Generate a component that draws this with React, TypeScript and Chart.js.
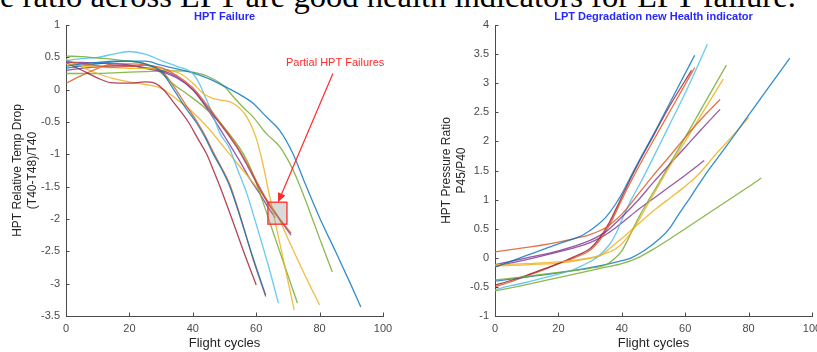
import React, { useEffect, useRef } from 'react';
import { Chart, registerables } from 'chart.js';

Chart.register(...registerables);
Chart.defaults.font.family = '"Liberation Sans", Arial, Helvetica, sans-serif';

type Pt = [number, number];

// ---------- shared axis data ----------
const cycleMin = 0;
const cycleMax = 100;
const cycleStep = 20;

// ---------- HPT Failure (left) ----------
const hptYMin = -3.5;
const hptYMax = 1;
const hptBlueA: Pt[] = [[0,0.36],[5,0.40],[10,0.42],[15,0.44],[20,0.44],[25,0.40],[30,0.28],[34,0.0],[38,-0.3],[41,-0.5],[44,-0.75],[46.5,-1.0],[49,-1.22],[51.7,-1.5],[55,-1.98],[59,-2.6],[63,-3.18]];
const hptOrangeA: Pt[] = [[0,0.44],[5,0.40],[10,0.37],[15,0.35],[20,0.36],[25,0.38],[30,0.34],[35,0.22],[40,0.03],[45,-0.27],[50,-0.6],[55,-0.96],[58,-1.22],[61,-1.5],[64,-1.76],[67,-1.97],[71,-2.22]];
const hptYellowA: Pt[] = [[0,0.40],[5,0.37],[10,0.35],[15,0.34],[20,0.33],[25,0.33],[30,0.32],[36,0.25],[40,0.10],[43.3,-0.06],[46,-0.13],[48.6,-0.16],[52.7,-0.21],[57,-0.42],[60.2,-0.78],[62.3,-1.19],[63.8,-1.55],[68,-2.5],[72,-3.41]];
const hptPurpleA: Pt[] = [[0,0.42],[5,0.42],[10,0.41],[15,0.40],[20,0.38],[25,0.33],[30,0.28],[35,0.18],[40,0.0],[45,-0.3],[50,-0.62],[55,-0.98],[58,-1.25],[61,-1.52],[64,-1.78],[67,-1.98],[71,-2.25]];
const hptGreenA: Pt[] = [[0,0.52],[5,0.51],[10,0.49],[15,0.47],[20,0.44],[25,0.40],[28,0.33],[31,0.22],[34,0.08],[38,-0.06],[43.3,-0.26],[49.6,-0.57],[55.9,-0.99],[58.5,-1.245],[62,-1.72],[66,-2.3],[70,-2.87],[73,-3.3]];
const hptLightBlue: Pt[] = [[0,0.45],[5,0.48],[10,0.50],[15,0.55],[20,0.59],[25,0.55],[30,0.45],[35,0.36],[40,0.25],[42,0.1],[44,-0.12],[46,-0.35],[48.6,-0.68],[51.5,-0.9],[54,-1.22],[57,-1.6],[60,-2.08],[64,-2.75],[67,-3.3]];
const hptDarkRed: Pt[] = [[0,0.42],[5,0.3],[10,0.18],[14,0.11],[20,0.10],[25,0.12],[28,0.10],[30.8,0],[34,-0.2],[38.6,-0.5],[41.5,-0.75],[44.4,-1.0],[46.5,-1.245],[48.6,-1.5],[52,-1.95],[56,-2.5],[60,-3.02]];
const hptBlueB: Pt[] = [[0,0.33],[5,0.37],[10,0.40],[15,0.43],[20,0.44],[25,0.44],[30,0.38],[35,0.32],[40,0.26],[45,0.17],[50,0.05],[55,-0.08],[59,-0.21],[63.2,-0.42],[67.4,-0.63],[71.6,-0.99],[75,-1.4],[80,-1.98],[85,-2.5],[90,-3.03],[93,-3.36]];
const hptOrangeB: Pt[] = [[0,0.10],[5,0.22],[10,0.33],[15,0.40],[20,0.40],[25,0.38],[30,0.30],[34,0.05],[38,-0.25],[41,-0.47],[44,-0.72],[46.5,-0.97],[49,-1.2],[51.7,-1.47],[55,-1.96],[59,-2.62],[63,-3.2]];
const hptYellowB: Pt[] = [[0,0.47],[5,0.35],[10,0.25],[15,0.17],[20,0.12],[25,0.08],[30,0.02],[35,-0.15],[40,-0.35],[45,-0.6],[50,-0.9],[55,-1.2],[60,-1.5],[66.4,-1.92],[70,-2.3],[75,-2.83],[80,-3.33]];
const hptPurpleB: Pt[] = [[0,0.30],[5,0.33],[10,0.35],[15,0.37],[20,0.37],[25,0.34],[30,0.30],[35,0.2],[40,0.0],[45,-0.33],[50,-0.72],[55,-1.12],[58,-1.38],[61,-1.6],[63.5,-1.8],[66,-1.98]];
const hptGreenB: Pt[] = [[0,0.25],[5,0.25],[10,0.25],[15,0.26],[20,0.27],[25,0.28],[30,0.29],[35,0.29],[40,0.27],[45,0.2],[50,0.05],[52.8,-0.11],[56,-0.28],[59,-0.42],[63.2,-0.68],[67.4,-0.88],[70.6,-1.14],[73.9,-1.5],[77,-1.9],[80,-2.3],[84,-2.82]];

// annotation (data units of the left chart)
const annotText = 'Partial HPT Failures';
const annotTextAt: Pt = [84.9, 0.41];
const annotArrowFrom: Pt = [84.2, 0.25];
const annotArrowTo: Pt = [66.9, -1.74];
const annotBoxX: Pt = [63.7, 69.7];
const annotBoxY: Pt = [-2.08, -1.74];

// ---------- LPT Degradation (right) ----------
const lptYMin = -1;
const lptYMax = 4;
const lptBlueA: Pt[] = [[0,-0.16],[5,-0.06],[10,0.04],[15,0.14],[20,0.24],[25,0.33],[28,0.4],[32,0.55],[35,0.7],[38,0.92],[41,1.2],[44,1.52],[50,2.12],[56,2.75],[63,3.48]];
const lptOrangeA: Pt[] = [[0,0.10],[5,0.14],[10,0.18],[15,0.22],[20,0.27],[25,0.33],[30,0.40],[35,0.52],[40,0.75],[45,1.08],[50,1.42],[55,1.74],[60,2.07],[65,2.38],[71,2.72]];
const lptYellowA: Pt[] = [[0,-0.12],[10,-0.1],[20,-0.07],[30,0.0],[34,0.06],[38,0.15],[41,0.3],[44,0.52],[48,0.9],[52,1.28],[56,1.65],[60,2.0],[65,2.45],[72,3.07]];
const lptPurpleA: Pt[] = [[0,-0.12],[10,0.0],[20,0.12],[30,0.3],[35,0.45],[40,0.7],[45,0.98],[50,1.3],[55,1.6],[60,1.9],[65,2.2],[71,2.55]];
const lptGreenA: Pt[] = [[0,-0.38],[10,-0.32],[20,-0.25],[30,-0.18],[35,-0.12],[38,0.0],[40,0.12],[42,0.32],[44,0.55],[46,0.76],[48,0.95],[50,1.13],[55,1.6],[60,2.07],[65,2.55],[73,3.31]];
const lptLightBlue: Pt[] = [[0,-0.55],[5,-0.48],[10,-0.42],[15,-0.35],[20,-0.28],[25,-0.2],[28,-0.12],[32,0.0],[36,0.22],[38,0.4],[40,0.65],[43,1.0],[46,1.3],[50,1.73],[55,2.28],[60,2.83],[67,3.67]];
const lptDarkRed: Pt[] = [[0,-0.47],[5,-0.39],[10,-0.3],[15,-0.2],[20,-0.1],[25,0.02],[30,0.16],[33,0.34],[36,0.6],[40,1.05],[45,1.6],[50,2.1],[55,2.6],[62,3.22]];
const lptBlueB: Pt[] = [[0,-0.40],[10,-0.33],[20,-0.26],[30,-0.17],[40,-0.05],[43,0.0],[47,0.12],[52,0.33],[55,0.5],[58,0.75],[62,1.07],[66,1.4],[70,1.7],[75,2.07],[80,2.45],[85,2.83],[93,3.43]];
const lptOrangeB: Pt[] = [[0,-0.50],[5,-0.41],[10,-0.31],[15,-0.21],[20,-0.1],[25,0.0],[30,0.13],[33,0.3],[36,0.55],[40,1.0],[45,1.53],[50,2.02],[55,2.5],[60,2.98],[63,3.27]];
const lptYellowB: Pt[] = [[0,-0.14],[10,-0.12],[20,-0.09],[30,-0.01],[33,0.03],[37,0.2],[41,0.38],[46,0.62],[51,0.85],[57,1.1],[63.6,1.4],[70,1.8],[75,2.1],[80,2.41]];
const lptPurpleB: Pt[] = [[0,-0.15],[10,-0.03],[20,0.1],[30,0.26],[35,0.4],[40,0.6],[45,0.82],[50,1.02],[55,1.22],[60,1.42],[66,1.67]];
const lptGreenB: Pt[] = [[0,-0.57],[10,-0.46],[20,-0.34],[30,-0.22],[35,-0.16],[40,-0.1],[45,0.0],[50,0.15],[55,0.32],[60,0.5],[65,0.68],[70,0.86],[75,1.04],[80,1.22],[84,1.37]];

// ---------- styles ----------
const C_BLUE = 'rgba(0,114,189,0.8)';
const C_ORANGE = 'rgba(217,83,25,0.8)';
const C_YELLOW = 'rgba(237,177,32,0.85)';
const C_PURPLE = 'rgba(126,47,142,0.8)';
const C_GREEN = 'rgba(119,172,48,0.85)';
const C_LBLUE = 'rgba(77,190,238,0.85)';
const C_DRED = 'rgba(162,20,47,0.8)';
const AXIS_COLOR = '#4a4a4a';
const TEXT_COLOR = '#262626';
const TITLE_COLOR = '#2828ff';
const ANNOT_COLOR = '#ff2a2a';
const TICK_LEN = 3.5;

const hptSeries: [Pt[], string][] = [
  [hptBlueA, C_BLUE], [hptOrangeA, C_ORANGE], [hptYellowA, C_YELLOW], [hptPurpleA, C_PURPLE],
  [hptGreenA, C_GREEN], [hptLightBlue, C_LBLUE], [hptDarkRed, C_DRED], [hptBlueB, C_BLUE],
  [hptOrangeB, C_ORANGE], [hptYellowB, C_YELLOW], [hptPurpleB, C_PURPLE], [hptGreenB, C_GREEN],
];
const lptSeries: [Pt[], string][] = [
  [lptBlueA, C_BLUE], [lptOrangeA, C_ORANGE], [lptYellowA, C_YELLOW], [lptPurpleA, C_PURPLE],
  [lptGreenA, C_GREEN], [lptLightBlue, C_LBLUE], [lptDarkRed, C_DRED], [lptBlueB, C_BLUE],
  [lptOrangeB, C_ORANGE], [lptYellowB, C_YELLOW], [lptPurpleB, C_PURPLE], [lptGreenB, C_GREEN],
];

const fmtTick = (v: any) => String(+Number(v).toFixed(2));

const inwardTicks = {
  id: 'inwardTicks',
  afterDraw(chart: any) {
    const { ctx, chartArea, scales } = chart;
    const xs = scales.x;
    const ys = scales.y;
    ctx.save();
    ctx.strokeStyle = AXIS_COLOR;
    ctx.lineWidth = 1;
    ctx.beginPath();
    xs.ticks.forEach((t: any) => {
      const px = Math.round(xs.getPixelForValue(t.value)) + 0.5;
      ctx.moveTo(px, chartArea.bottom);
      ctx.lineTo(px, chartArea.bottom - TICK_LEN);
    });
    ys.ticks.forEach((t: any) => {
      const py = Math.round(ys.getPixelForValue(t.value)) + 0.5;
      ctx.moveTo(chartArea.left, py);
      ctx.lineTo(chartArea.left + TICK_LEN, py);
    });
    ctx.stroke();
    ctx.restore();
  },
};

const hptAnnotation = {
  id: 'hptAnnotation',
  afterDatasetsDraw(chart: any) {
    const { ctx, scales } = chart;
    const xs = scales.x;
    const ys = scales.y;
    const X = (v: number) => xs.getPixelForValue(v);
    const Y = (v: number) => ys.getPixelForValue(v);
    ctx.save();
    const bx0 = X(annotBoxX[0]);
    const bx1 = X(annotBoxX[1]);
    const by0 = Y(annotBoxY[1]);
    const by1 = Y(annotBoxY[0]);
    ctx.fillStyle = 'rgba(150,150,150,0.35)';
    ctx.fillRect(bx0, by0, bx1 - bx0, by1 - by0);
    ctx.strokeStyle = ANNOT_COLOR;
    ctx.lineWidth = 1.3;
    ctx.strokeRect(bx0, by0, bx1 - bx0, by1 - by0);
    const ax0 = X(annotArrowFrom[0]);
    const ay0 = Y(annotArrowFrom[1]);
    const ax1 = X(annotArrowTo[0]);
    const ay1 = Y(annotArrowTo[1]);
    const ang = Math.atan2(ay1 - ay0, ax1 - ax0);
    const hl = 9;
    const hw = 4;
    const bxh = ax1 - hl * Math.cos(ang);
    const byh = ay1 - hl * Math.sin(ang);
    ctx.beginPath();
    ctx.moveTo(ax0, ay0);
    ctx.lineTo(bxh, byh);
    ctx.lineWidth = 1.2;
    ctx.stroke();
    ctx.beginPath();
    ctx.moveTo(ax1, ay1);
    ctx.lineTo(bxh + hw * Math.sin(ang), byh - hw * Math.cos(ang));
    ctx.lineTo(bxh - hw * Math.sin(ang), byh + hw * Math.cos(ang));
    ctx.closePath();
    ctx.fillStyle = ANNOT_COLOR;
    ctx.fill();
    ctx.font = '11px "Liberation Sans", Arial, sans-serif';
    ctx.textAlign = 'center';
    ctx.textBaseline = 'middle';
    ctx.fillStyle = ANNOT_COLOR;
    ctx.fillText(annotText, X(annotTextAt[0]), Y(annotTextAt[1]));
    ctx.restore();
  },
};

function buildConfig(
  series: [Pt[], string][],
  title: string,
  yTitle: string[],
  yMin: number,
  yMax: number,
  padRight: number,
  extra: any[]
): any {
  return {
    type: 'line',
    data: {
      datasets: series.map(([pts, color]) => ({
        data: pts.map(([x, y]) => ({ x, y })),
        borderColor: color,
        borderWidth: 1.3,
        pointRadius: 0,
        fill: false,
        cubicInterpolationMode: 'monotone',
      })),
    },
    options: {
      responsive: false,
      animation: false,
      events: [],
      layout: { padding: { left: 0, right: padRight, top: 0, bottom: 0 } },
      plugins: {
        legend: { display: false },
        tooltip: { enabled: false },
        title: {
          display: true,
          text: title,
          color: TITLE_COLOR,
          fullSize: false,
          font: { size: 11, weight: 'bold' },
          padding: { top: 9.9, bottom: 1.9 },
        },
      },
      scales: {
        x: {
          type: 'linear',
          min: cycleMin,
          max: cycleMax,
          ticks: { stepSize: cycleStep, autoSkip: false, maxRotation: 0, color: AXIS_COLOR, font: { size: 11 }, padding: 6, callback: fmtTick },
          grid: { display: false, drawTicks: false },
          border: { display: true, color: AXIS_COLOR, width: 1 },
          title: { display: true, text: 'Flight cycles', color: TEXT_COLOR, font: { size: 13 }, padding: { top: 0, bottom: 1.2 } },
          afterFit: (s: any) => { s.height = 36; s.paddingLeft = 0; s.paddingRight = 0; },
        },
        y: {
          type: 'linear',
          min: yMin,
          max: yMax,
          ticks: { stepSize: 0.5, autoSkip: false, color: AXIS_COLOR, font: { size: 11 }, padding: 6, callback: fmtTick },
          grid: { display: false, drawTicks: false },
          border: { display: true, color: AXIS_COLOR, width: 1 },
          title: { display: true, text: yTitle, color: TEXT_COLOR, font: { size: 12, lineHeight: 1.25 }, padding: { top: 10.5, bottom: 0 } },
          afterFit: (s: any) => { s.width = 66; s.paddingTop = 0; s.paddingBottom = 0; },
        },
      },
    },
    plugins: [inwardTicks, ...extra],
  };
}

function Panel({ left, width, config }: { left: number; width: number; config: () => any }) {
  const ref = useRef<HTMLCanvasElement>(null);
  useEffect(() => {
    const chart = new Chart(ref.current as HTMLCanvasElement, config());
    return () => chart.destroy();
  }, []);
  return (
    <canvas
      ref={ref}
      width={width}
      height={352}
      style={{ position: 'absolute', left, top: 0, width, height: 352 }}
    />
  );
}

export default function App() {
  return (
    <div style={{ position: 'fixed', left: 0, top: 0, width: 817, height: 352, overflow: 'hidden', background: '#fff' }}>
      <div
        style={{
          position: 'absolute',
          left: 0,
          top: -20,
          fontFamily: '"Liberation Serif", "Times New Roman", serif',
          fontSize: 32.6,
          lineHeight: '33px',
          whiteSpace: 'nowrap',
          color: '#000',
        }}
      >
        e ratio across LPT are good health indicators for LPT failure.
      </div>
      <Panel
        left={0}
        width={410}
        config={() => buildConfig(hptSeries, 'HPT Failure', ['HPT Relative Temp Drop', '(T40-T48)/T40'], hptYMin, hptYMax, 27, [hptAnnotation])}
      />
      <Panel
        left={429}
        width={388}
        config={() => buildConfig(lptSeries, 'LPT Degradation new Health indicator', ['HPT Pressure Ratio', 'P45/P40'], lptYMin, lptYMax, 5, [])}
      />
    </div>
  );
}
